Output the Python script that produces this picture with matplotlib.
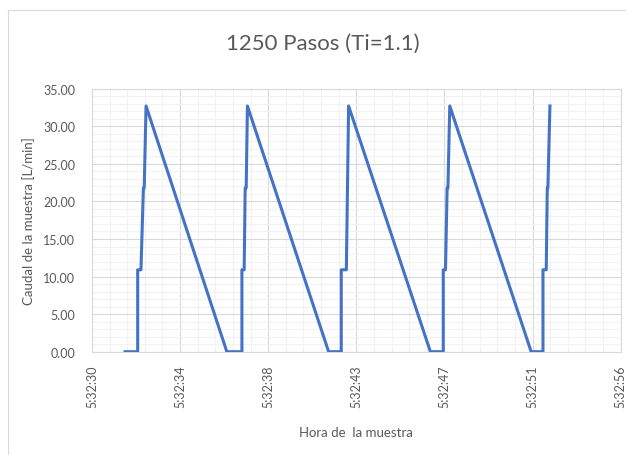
#!/usr/bin/env python3
import matplotlib
matplotlib.use("Agg")
import matplotlib.pyplot as plt
from matplotlib.ticker import MultipleLocator, FixedLocator, FuncFormatter
from matplotlib.patches import Rectangle

tiempo = [31.62, 32.24, 32.24, 32.40, 32.52, 32.56, 32.65,
          36.61, 37.35, 37.35, 37.46, 37.51, 37.56, 37.62,
          41.60, 42.22, 42.22, 42.47, 42.58,
          46.59, 47.22, 47.22, 47.33, 47.41, 47.45, 47.54,
          51.53, 52.11, 52.11, 52.27, 52.32, 52.35, 52.45]
caudal = [0.0, 0.0, 10.9, 10.9, 21.8, 21.8, 32.7,
          0.0, 0.0, 10.9, 10.9, 21.8, 21.8, 32.7,
          0.0, 0.0, 10.9, 10.9, 32.7,
          0.0, 0.0, 10.9, 10.9, 21.8, 21.8, 32.7,
          0.0, 0.0, 10.9, 10.9, 21.8, 21.8, 32.7]

etiquetas_x = ["5:32:30", "5:32:34", "5:32:38", "5:32:43",
               "5:32:47", "5:32:51", "5:32:56"]

x_min = 30.0
paso = 4.32  # 0.00005 days
x_max = x_min + 6 * paso

gris = "#595959"
font = ["Lato", "DejaVu Sans"]
plt.rcParams["font.family"] = font


def main():
    fig = plt.figure(figsize=(6.26, 4.56), dpi=100)
    fig.patches.append(Rectangle((8 / 626, -0.1), 1.2, 1 - 11 / 456 + 0.1,
                                 transform=fig.transFigure, fill=False,
                                 edgecolor="#D9D9D9", linewidth=0.8))
    ax = fig.add_axes([92 / 626, 1 - 352.7 / 456, (620.7 - 92) / 626, (352.7 - 89.7) / 456])

    ax.plot(tiempo, caudal, color="#4472C4", linewidth=2.2, solid_joinstyle="round", zorder=3)

    ax.set_xlim(x_min, x_max)
    ax.set_ylim(0, 35)
    ax.xaxis.set_major_locator(FixedLocator([x_min + k * paso for k in range(7)]))
    ax.xaxis.set_minor_locator(FixedLocator([x_min + k * paso / 5 for k in range(31)]))
    ax.set_xticklabels(etiquetas_x, rotation=90)
    ax.yaxis.set_major_locator(MultipleLocator(5))
    ax.yaxis.set_minor_locator(MultipleLocator(1))
    ax.yaxis.set_major_formatter(FuncFormatter(lambda v, p: f"{v:.2f}"))

    ax.grid(which="minor", color="#F2F2F2", linewidth=0.8, zorder=0)
    ax.grid(which="major", color="#D9D9D9", linewidth=0.8, zorder=1)
    ax.set_axisbelow(True)
    for s in ax.spines.values():
        s.set_color("#D9D9D9")
        s.set_linewidth(0.8)

    ax.tick_params(which="both", length=0, colors=gris, labelsize=9)
    ax.tick_params(axis="y", pad=12)
    ax.tick_params(axis="x", pad=9)

    ax.set_xlabel("Hora de  la muestra", fontsize=9.5, color=gris, labelpad=14)
    ax.set_ylabel("Caudal de la muestra [L/min]", fontsize=9.5, color=gris, labelpad=6)
    fig.text(323 / 626, 1 - 44 / 456, "1250 Pasos (Ti=1.1)",
             fontsize=16, color=gris, ha="center", va="center")

    fig.savefig("out.png", dpi=100)


if __name__ == '__main__':
    main()
